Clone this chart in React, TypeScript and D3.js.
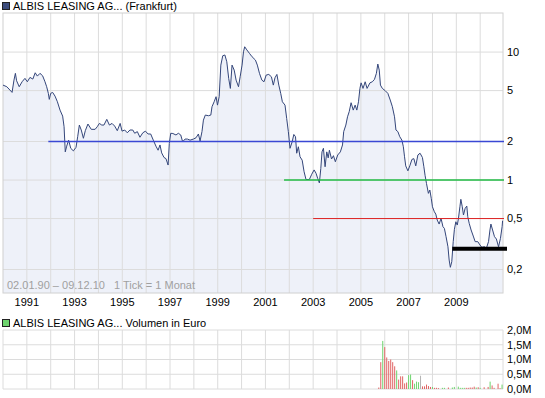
import * as d3 from 'd3';

const priceYears = [
  1990.0, 1990.16, 1990.29, 1990.38, 1990.46, 1990.52, 1990.57, 1990.68, 1990.8, 1990.92,
  1991.02, 1991.13, 1991.25, 1991.35, 1991.44, 1991.55, 1991.66, 1991.76, 1991.83, 1991.9,
  1991.94, 1992.0, 1992.08, 1992.18, 1992.28, 1992.39, 1992.5, 1992.56, 1992.61, 1992.67,
  1992.75, 1992.84, 1992.95, 1993.06, 1993.13, 1993.2, 1993.28, 1993.37, 1993.45, 1993.56,
  1993.7, 1993.86, 1993.95, 1994.04, 1994.14, 1994.23, 1994.35, 1994.46, 1994.57, 1994.68,
  1994.79, 1994.91, 1994.99, 1995.1, 1995.21, 1995.32, 1995.44, 1995.52, 1995.63, 1995.74,
  1995.86, 1995.97, 1996.08, 1996.19, 1996.3, 1996.41, 1996.5, 1996.58, 1996.65, 1996.75,
  1996.83, 1996.92, 1996.97, 1997.03, 1997.12, 1997.25, 1997.35, 1997.45, 1997.53, 1997.63,
  1997.73, 1997.84, 1997.98, 1998.09, 1998.19, 1998.26, 1998.34, 1998.4, 1998.48, 1998.61,
  1998.71, 1998.76, 1998.85, 1998.93, 1998.99, 1999.06, 1999.13, 1999.21, 1999.3, 1999.38,
  1999.46, 1999.53, 1999.6, 1999.69, 1999.77, 1999.87, 1999.94, 2000.02, 2000.08, 2000.13,
  2000.22, 2000.33, 2000.44, 2000.58, 2000.66, 2000.75, 2000.85, 2000.94, 2001.03, 2001.14,
  2001.25, 2001.33, 2001.4, 2001.48, 2001.56, 2001.64, 2001.71, 2001.82, 2001.89, 2001.96,
  2002.03, 2002.12, 2002.19, 2002.26, 2002.31, 2002.38, 2002.45, 2002.54, 2002.62, 2002.7,
  2002.84, 2002.94, 2003.04, 2003.12, 2003.19, 2003.26, 2003.32, 2003.37, 2003.43, 2003.5,
  2003.57, 2003.63, 2003.68, 2003.77, 2003.85, 2003.93, 2004.03, 2004.14, 2004.23, 2004.28,
  2004.37, 2004.44, 2004.51, 2004.59, 2004.68, 2004.76, 2004.83, 2004.9, 2004.96, 2005.01,
  2005.09, 2005.18, 2005.26, 2005.38, 2005.48, 2005.57, 2005.65, 2005.71, 2005.77, 2005.82,
  2005.9, 2006.02, 2006.13, 2006.23, 2006.32, 2006.41, 2006.47, 2006.55, 2006.63, 2006.72,
  2006.78, 2006.83, 2006.88, 2006.97, 2007.05, 2007.14, 2007.22, 2007.3, 2007.39, 2007.48,
  2007.58, 2007.64, 2007.69, 2007.75, 2007.83, 2007.89, 2007.95, 2008.0, 2008.08, 2008.14,
  2008.2, 2008.28, 2008.36, 2008.44, 2008.5, 2008.57, 2008.65, 2008.7, 2008.75, 2008.81,
  2008.87, 2008.92, 2008.98, 2009.04, 2009.09, 2009.15, 2009.19, 2009.25, 2009.3, 2009.37,
  2009.44, 2009.48, 2009.54, 2009.62, 2009.71, 2009.79, 2009.9, 2009.99, 2010.07, 2010.18,
  2010.26, 2010.35, 2010.41, 2010.45, 2010.52, 2010.6, 2010.68, 2010.77, 2010.85, 2010.92,
  2010.94,
];
const priceValues = [
  5.52, 5.36, 5.05, 4.84, 6.04, 6.82, 5.97, 5.36, 5.86, 6.23,
  5.86, 6.34, 6.15, 6.89, 6.49, 6.82, 6.53, 5.86, 5.36, 4.76,
  4.27, 4.76, 4.84, 4.53, 4.09, 3.52, 3.16, 2.61, 1.66, 1.84,
  2.05, 1.77, 1.69, 1.8, 2.18, 2.69, 2.46, 2.12, 2.43, 2.74,
  2.49, 2.49, 2.61, 2.77, 2.69, 2.69, 2.98, 2.69, 2.77, 2.64,
  2.43, 2.77, 2.41, 2.46, 2.34, 2.46, 2.46, 2.32, 2.39, 2.16,
  2.34, 2.41, 2.29, 2.29, 2.05, 1.84, 1.71, 1.88, 1.63, 1.5,
  1.47, 1.31, 1.93, 2.32, 2.31, 2.25, 2.32, 2.25, 1.99, 2.09,
  2.09, 2.05, 2.09, 2.14, 2.29, 2.02, 2.39, 2.94, 3.22, 3.18,
  3.22, 3.74, 4.09, 4.48, 3.85, 4.48, 7.91, 9.36, 9.49, 8.4,
  6.23, 5.2, 7.91, 7.23, 6.04, 5.36, 6.41, 7.91, 10.05, 11.0,
  10.4, 9.77, 9.19, 8.66, 7.91, 6.82, 6.04, 5.86, 6.61, 6.69,
  6.41, 5.52, 6.3, 6.69, 5.52, 4.76, 4.09, 3.85, 3.03, 2.39,
  1.77, 1.99, 2.27, 2.18, 1.62, 1.82, 1.52, 1.43, 1.16, 1.01,
  1.01, 1.11, 1.2, 1.13, 1.03, 0.95, 1.23, 1.66, 1.77, 1.27,
  1.66, 1.49, 1.71, 1.46, 1.55, 1.39, 1.57, 1.66, 1.88, 2.39,
  2.69, 3.12, 3.42, 4.02, 3.52, 3.85, 3.52, 4.09, 5.2, 5.75,
  5.2, 5.86, 5.2, 5.75, 5.86, 6.12, 6.82, 8.06, 7.23, 5.52,
  5.2, 4.99, 4.76, 4.22, 3.74, 3.12, 2.46, 2.39, 2.18, 2.05,
  1.82, 1.52, 1.29, 1.18, 1.29, 1.45, 1.47, 1.29, 1.57, 1.62,
  1.5, 1.27, 1.09, 0.94, 0.787, 0.835, 0.72, 0.618, 0.565, 0.542,
  0.487, 0.453, 0.502, 0.432, 0.419, 0.361, 0.301, 0.237, 0.208, 0.23,
  0.33, 0.412, 0.472, 0.445, 0.502, 0.618, 0.707, 0.618, 0.533, 0.601,
  0.626, 0.517, 0.459, 0.407, 0.365, 0.33, 0.33, 0.311, 0.298, 0.301,
  0.293, 0.33, 0.407, 0.453, 0.407, 0.361, 0.346, 0.301, 0.35, 0.432,
  0.481,
];

// Volumen in Mio. Euro, monatlich ab Okt 2005
const volumeStart = 2005.75;
const volumeValues = [
  0.05, 0.91, 1.63, 1.42, 1.07, 0.95, 1.0, 0.91, 0.77, 0.63,
  0.32, 0.43, 0.43, 0.19, 0.22, 0.47, 0.49, 0.3, 0.18, 0.25,
  0.23, 0.45, 0.09, 0.09, 0.15, 0.1, 0.07, 0.07, 0.04, 0.04,
  0.03, 0, 0.04, 0.04, 0, 0.05, 0, 0.05, 0.07, 0,
  0.08, 0.04, 0.04, 0.04, 0.04, 0.04, 0.05, 0.05, 0.08, 0.05,
  0.06, 0.04, 0, 0.06, 0, 0.07, 0.25, 0.12, 0.04, 0,
  0.18, 0.03, 0.15,
];
const volumeDirs = [
  'r', 'r', 'g', 'r', 'r', 'r', 'r', 'r', 'r', 'g',
  'r', 'r', 'r', 'r', 'r', 'g', 'g', 'r', 'g', 'g',
  'g', 'n', 'r', 'r', 'r', 'r', 'r', 'g', 'r', 'r',
  'r', 'r', 'g', 'g', 'r', 'r', 'r', 'g', 'g', 'r',
  'g', 'g', 'g', 'g', 'r', 'r', 'r', 'r', 'r', 'g',
  'r', 'g', 'r', 'r', 'r', 'r', 'g', 'r', 'r', 'r',
  'r', 'r', 'g',
];

const priceTicks = [0.2, 0.5, 1, 2, 5, 10];
const priceTickLabels = ['0,2', '0,5', '1', '2', '5', '10'];
const volumeTicks = [0, 0.5, 1, 1.5, 2];
const volumeTickLabels = ['0,0M', '0,5M', '1,0M', '1,5M', '2,0M'];
const yearGrid = d3.range(1991, 2011);
const yearLabels = [1991, 1993, 1995, 1997, 1999, 2001, 2003, 2005, 2007, 2009];

// Unterstützungs-/Widerstandslinien
const levelValues = [2, 1, 0.5, 0.29];
const levelStarts = [1991.9, 2001.78, 2003.0, 2008.83];
const levelColors = ['#3a48d4', '#22bb44', '#dd2222', '#000000'];
const levelWidths = [1.5, 1.5, 1, 4];

const FONT = '"Liberation Sans", Arial, sans-serif';
const GRID = '#dcdcdc';

export default function App() {
  const left = 3;
  const right = 503;
  const top = 13;
  const bottom = 293;
  const vTop = 330;
  const vBottom = 389;

  const x = d3.scaleLinear().domain([1990.0, 2010.94]).range([left, 502.6]);
  const y = d3.scaleLog().domain([0.131, 20.2]).range([bottom, top]);
  const yv = d3.scaleLinear().domain([0, 2]).range([vBottom, vTop]);

  const points = priceYears.map((yr, i) => ({ yr, v: priceValues[i] }));
  const line = d3.line<{ yr: number; v: number }>()
    .x(d => x(d.yr))
    .y(d => y(d.v));
  const area = d3.area<{ yr: number; v: number }>()
    .x(d => x(d.yr))
    .y0(bottom)
    .y1(d => y(d.v));

  const volColor: Record<string, string> = { r: '#e06464', g: '#6ed46e', n: '#b4b4b4' };

  return (
    <svg
      width={545}
      height={398}
      style={{ position: 'absolute', left: 0, top: 0, background: '#fff' }}
      fontFamily={FONT}
    >
      {/* Titel */}
      <rect x={2.5} y={2.5} width={7} height={7} fill="#3c4c7c" stroke="#222" />
      <text x={13} y={10} fontSize={11} fill="#000">ALBIS LEASING AG... (Frankfurt)</text>

      {/* Kursgrafik */}
      <rect x={left} y={top} width={right - left} height={bottom - top} fill="#fff" />
      <path d={area(points) || ''} fill="#eef1f9" />
      {yearGrid.map(yr => (
        <line key={yr} x1={x(yr)} x2={x(yr)} y1={top} y2={bottom} stroke={GRID} />
      ))}
      {priceTicks.map(t => (
        <line key={t} x1={left} x2={right} y1={y(t)} y2={y(t)} stroke={GRID} />
      ))}
      <rect x={left} y={top} width={right - left} height={bottom - top} fill="none" stroke="#d0d0d0" />
      <path d={line(points) || ''} fill="none" stroke="#34467a" strokeWidth={1} />

      {levelValues.map((v, i) => (
        <line
          key={v}
          x1={x(levelStarts[i])}
          x2={i === 3 ? 507 : 504}
          y1={y(v)}
          y2={y(v)}
          stroke={levelColors[i]}
          strokeWidth={levelWidths[i]}
        />
      ))}

      <text x={7} y={289} fontSize={11} fill="#a0a0a0" style={{ whiteSpace: 'pre' }}>
        {'02.01.90 – 09.12.10   1 Tick = 1 Monat'}
      </text>

      {priceTicks.map((t, i) => (
        <text key={t} x={507} y={y(t)} dy="0.35em" fontSize={11} fill="#000">
          {priceTickLabels[i]}
        </text>
      ))}
      {yearLabels.map(yr => (
        <text key={yr} x={x(yr)} y={306} textAnchor="middle" fontSize={11} fill="#000">
          {yr}
        </text>
      ))}

      {/* Volumen */}
      <rect x={2.5} y={319.5} width={7} height={7} fill="#6ed46e" stroke="#222" />
      <text x={13} y={327} fontSize={11} fill="#000">ALBIS LEASING AG... Volumen in Euro</text>
      {yearGrid.map(yr => (
        <line key={yr} x1={x(yr)} x2={x(yr)} y1={vTop} y2={vBottom} stroke={GRID} />
      ))}
      <line x1={left} x2={left} y1={vTop} y2={vBottom} stroke={GRID} />
      <line x1={right} x2={right} y1={vTop} y2={vBottom} stroke={GRID} />
      {volumeTicks.map(t => (
        <line key={t} x1={left} x2={right} y1={yv(t)} y2={yv(t)} stroke={GRID} />
      ))}
      {volumeValues.map((v, i) => (
        v > 0 ? (
          <rect
            key={i}
            x={x(volumeStart + i / 12) - 0.5}
            y={yv(v)}
            width={1}
            height={vBottom - yv(v)}
            fill={volColor[volumeDirs[i]]}
          />
        ) : null
      ))}
      {volumeTicks.map((t, i) => (
        <text key={t} x={507} y={yv(t)} dy="0.35em" fontSize={11} fill="#000">
          {volumeTickLabels[i]}
        </text>
      ))}
    </svg>
  );
}
